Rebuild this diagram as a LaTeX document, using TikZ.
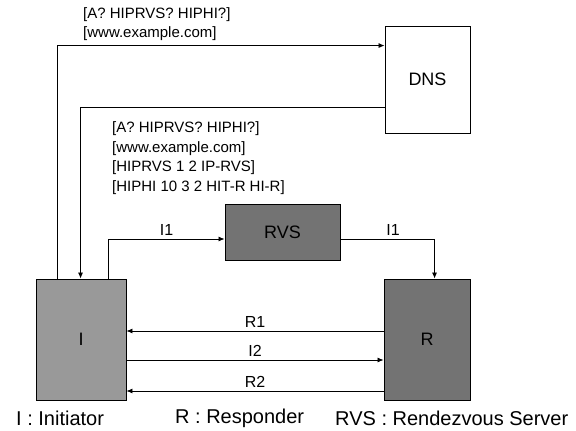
\documentclass[tikz,border=0pt]{standalone}
\usepackage{fontspec}
\setmainfont{Liberation Sans}
\usetikzlibrary{arrows.meta}
\begin{document}
\begin{tikzpicture}[x=1pt,y=-1pt,
  box/.style={draw=black, line width=0.9pt, inner sep=0pt, font=\fontsize{18}{20}\selectfont},
  conn/.style={line width=0.8pt},
  arr/.style={conn,-{Latex[length=6pt,width=5pt]}},
  lbl/.style={font=\fontsize{16}{19}\selectfont, inner sep=1.5pt},
  txt/.style={font=\fontsize{15}{19.5}\selectfont, align=left, inner sep=0pt, anchor=west},
  leg/.style={font=\fontsize{20}{22}\selectfont, inner sep=0pt, anchor=west}]
\useasboundingbox (0,0) rectangle (576,431);
\node[box, minimum width=85pt, minimum height=107pt] (DNS) at (427.5,79.5) {DNS};
\node[box, fill=black!55, minimum width=115pt, minimum height=56pt] (RVS) at (282.5,232) {RVS};
\node[box, fill=black!40, minimum width=90pt, minimum height=121pt] (I) at (81,339.5) {I};
\node[box, fill=black!55, minimum width=86pt, minimum height=121pt] (R) at (427,339.5) {R};
\draw[arr] ([xshift=22pt]I.north west) |- ([yshift=-20pt]DNS.north west);
\draw[arr] ([yshift=26pt]DNS.south west) -| ([xshift=45pt]I.north west);
\draw[arr] ([xshift=73pt]I.north west) |- ([yshift=-7pt]RVS.west) node[lbl, pos=0.75, above=1.5pt] {I1};
\draw[arr] ([yshift=-7pt]RVS.east) -| ([xshift=51pt]R.north west) node[lbl, pos=0.28, above=1.5pt] {I1};
\draw[arr] ([yshift=8.5pt]R.west) -- ([yshift=8.5pt]I.east) node[lbl, midway, above=1.5pt] {R1};
\draw[arr] ([yshift=-20.5pt]I.east) -- ([yshift=-20.5pt]R.west) node[lbl, midway, above=1.5pt] {I2};
\draw[arr] ([yshift=-51.5pt]R.west) -- ([yshift=-51.5pt]I.east) node[lbl, midway, above=1.5pt] {R2};
\node[txt] (q1) at (83,24) {{[A? HIPRVS? HIPHI?]}\\{}{[www.example.com]}};
\node[txt] (q2) at (112,158) {{[A? HIPRVS? HIPHI?]}\\{}{[www.example.com]}\\{}{[HIPRVS 1 2 IP-RVS]}\\{}{[HIPHI 10 3 2 HIT-R HI-R]}};
\node[leg] (l1) at (16,418) {I : Initiator};
\node[leg] (l2) at (175,418) {R : Responder};
\node[leg] (l3) at (335,418) {RVS : Rendezvous Server};
\end{tikzpicture}
\end{document}
